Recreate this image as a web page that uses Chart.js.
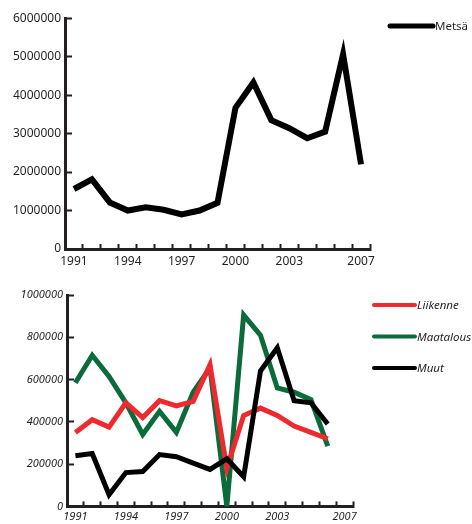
<!DOCTYPE html>
<html>
<head>
<meta charset="utf-8">
<script src="https://cdn.jsdelivr.net/npm/chart.js@4.4.1/dist/chart.umd.min.js"></script>
<style>
  html, body { margin: 0; padding: 0; background: #fff; }
  #wrap { position: relative; width: 472px; height: 524px; }
  #ylakuva { position: absolute; left: 0; top: 0; }
  #alakuva { position: absolute; left: 0; top: 268px; }
</style>
</head>
<body>
<div id="wrap">
  <canvas id="ylakuva" width="472" height="268"></canvas>
  <canvas id="alakuva" width="472" height="256"></canvas>
</div>
<script>
// vuodet ja näytettävät akselin otsikot
const vuodet = ['1991', '1992', '1993', '1994', '1995', '1996', '1997', '1998', '1999',
  '2000', '2001', '2002', '2003', '2004', '2005', '2006', '2007'];
const naytettavatVuodet = ['1991', '1994', '1997', '2000', '2003', '2007'];

// yläkuva
const metsa = [1560000, 1810000, 1210000, 1000000, 1085000, 1020000, 900000, 1000000, 1200000,
  3670000, 4330000, 3350000, 3140000, 2880000, 3050000, 5060000, 2200000];
const ylaMax = 6000000;
const ylaAskel = 1000000;

// alakuva
const liikenne = [350000, 410000, 375000, 490000, 420000, 500000, 475000, 497000, 670000,
  180000, 430000, 465000, 430000, 380000, 350000, 320000, null];
const maatalous = [585000, 715000, 615000, 490000, 340000, 450000, 350000, 540000, 655000,
  0, 905000, 810000, 560000, 540000, 505000, 285000, null];
const muut = [240000, 250000, 55000, 160000, 165000, 245000, 235000, 205000, 175000,
  225000, 140000, 640000, 750000, 500000, 490000, 390000, null];
const alaMax = 1000000;
const alaAskel = 200000;

const musta = '#231f20';

// selite piirretään itse: viiva + teksti
const viivaSelite = {
  id: 'viivaSelite',
  afterDraw(chart, args, o) {
    const ctx = chart.ctx;
    ctx.save();
    chart.data.datasets.forEach((ds, i) => {
      const y = o.y + i * o.vali;
      ctx.beginPath();
      ctx.lineCap = 'round';
      ctx.lineWidth = o.paksuus;
      ctx.strokeStyle = ds.borderColor;
      ctx.moveTo(o.x, y);
      ctx.lineTo(o.x + o.pituus, y);
      ctx.stroke();
      ctx.fillStyle = musta;
      ctx.font = o.fontti;
      ctx.textBaseline = 'middle';
      ctx.fillText(ds.label, o.x + o.pituus + 2, y + 1);
    });
    ctx.restore();
  }
};

function akselit(fontti, korkeus, leveys, ymax, askel, xPad, yPad) {
  return {
    x: {
      type: 'category',
      offset: true,
      grid: { drawOnChartArea: false, offset: true, tickLength: -5, tickWidth: 2, tickColor: musta },
      border: { color: musta, width: 3 },
      ticks: {
        autoSkip: false, maxRotation: 0, padding: xPad, color: musta, font: fontti,
        callback(v) {
          const l = this.getLabelForValue(v);
          return naytettavatVuodet.includes(l) ? l : '';
        }
      },
      afterFit(s) { s.height = korkeus; }
    },
    y: {
      min: 0, max: ymax,
      grid: { drawOnChartArea: false, tickLength: -7, tickWidth: 2, tickColor: musta },
      border: { color: musta, width: 3 },
      ticks: { stepSize: askel, padding: yPad, color: musta, font: fontti, callback: v => String(v) },
      afterFit(s) { s.width = leveys; }
    }
  };
}

const viivaAsetukset = { tension: 0, pointRadius: 0, borderJoinStyle: 'miter', spanGaps: false };

new Chart(document.getElementById('ylakuva'), {
  type: 'line',
  data: {
    labels: vuodet,
    datasets: [
      { label: 'Metsä', data: metsa, borderColor: '#000', borderWidth: 6, ...viivaAsetukset }
    ]
  },
  options: {
    responsive: false,
    animation: false,
    layout: { padding: { left: 0, top: 15, right: 102, bottom: 0 } },
    plugins: {
      legend: { display: false },
      tooltip: { enabled: false },
      viivaSelite: { x: 390, y: 26, vali: 0, pituus: 43, paksuus: 5, fontti: '11.5px "Noto Sans"' }
    },
    scales: akselit({ family: 'Noto Sans', size: 12 }, 19, 65, ylaMax, ylaAskel, 10, 11)
  },
  plugins: [viivaSelite]
});

new Chart(document.getElementById('alakuva'), {
  type: 'line',
  data: {
    labels: vuodet,
    datasets: [
      { label: 'Liikenne', data: liikenne, borderColor: '#ed2a2e', borderWidth: 5, order: 1, ...viivaAsetukset },
      { label: 'Maatalous', data: maatalous, borderColor: '#0b6b3a', borderWidth: 5, order: 2, ...viivaAsetukset },
      { label: 'Muut', data: muut, borderColor: '#000', borderWidth: 5, order: 0, ...viivaAsetukset }
    ]
  },
  options: {
    responsive: false,
    animation: false,
    layout: { padding: { left: 0, top: 27, right: 119, bottom: 0 } },
    plugins: {
      legend: { display: false },
      tooltip: { enabled: false },
      viivaSelite: { x: 374, y: 37, vali: 31.5, pituus: 41, paksuus: 4, fontti: 'italic 11.5px "Noto Sans"' }
    },
    scales: akselit({ family: 'Noto Sans', size: 11, style: 'italic' }, 16, 67, alaMax, alaAskel, 9, 11)
  },
  plugins: [viivaSelite]
});
</script>
</body>
</html>
